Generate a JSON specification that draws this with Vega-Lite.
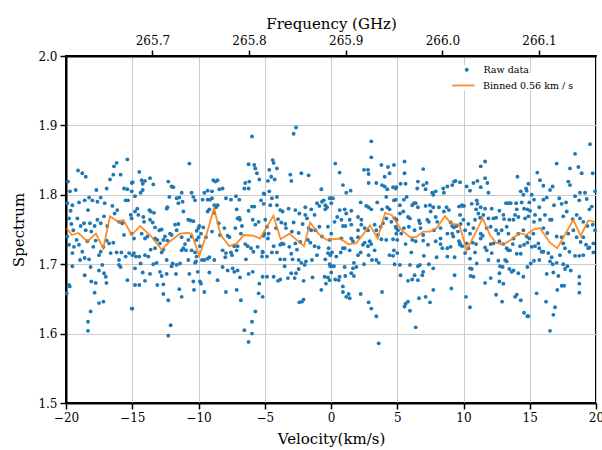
{
"$schema": "https://vega.github.io/schema/vega-lite/v6.json",
"width": 530, "height": 347,
"autosize": "none",
"padding": {"left": 66, "top": 56, "right": 6, "bottom": 47},
"background": "white",
"config": {
  "font": "DejaVu Serif",
  "view": {"stroke": "black", "strokeWidth": 2},
  "axis": {"labelFont": "DejaVu Serif", "titleFont": "DejaVu Serif", "labelFontSize": 12, "titleFontSize": 15, "titleFontWeight": "normal", "labelColor": "black", "titleColor": "black", "tickColor": "black", "tickSize": 6, "tickWidth": 1.5, "domainColor": "black", "domainWidth": 2, "gridColor": "#cccccc", "gridWidth": 1, "labelPadding": 3, "labelFlush": false},
  "legend": {"labelFont": "DejaVu Serif", "labelFontSize": 9.5, "labelColor": "black", "padding": 0, "fillColor": "white"}
},
"datasets": {
"raw": [
{"v":-19.85,"s":1.819},{"v":-19.70,"s":1.805},{"v":-19.27,"s":1.807},{"v":-19.09,"s":1.835},{"v":-18.77,"s":1.831},{"v":-18.51,"s":1.826},{"v":-19.9,"s":1.788},{"v":-19.52,"s":1.785},{"v":-19.02,"s":1.789},{"v":-18.59,"s":1.792},{"v":-18.26,"s":1.796},{"v":-18.01,"s":1.792},{"v":-17.71,"s":1.807},{"v":-17.63,"s":1.790},{"v":-17.38,"s":1.796},{"v":-17.08,"s":1.788},{"v":-16.93,"s":1.809},{"v":-16.68,"s":1.822},{"v":-16.43,"s":1.829},{"v":-16.38,"s":1.841},{"v":-16.18,"s":1.846},{"v":-15.88,"s":1.829},{"v":-15.62,"s":1.809},{"v":-15.37,"s":1.808},{"v":-15.37,"s":1.851},{"v":-15.04,"s":1.817},{"v":-19.65,"s":1.777},{"v":-19.77,"s":1.766},{"v":-19.6,"s":1.758},{"v":-19.45,"s":1.749},{"v":-19.14,"s":1.766},{"v":-18.89,"s":1.755},{"v":-18.64,"s":1.759},{"v":-18.51,"s":1.749},{"v":-18.34,"s":1.778},{"v":-18.19,"s":1.759},{"v":-18.09,"s":1.747},{"v":-17.84,"s":1.755},{"v":-17.63,"s":1.764},{"v":-17.38,"s":1.759},{"v":-17.13,"s":1.769},{"v":-16.88,"s":1.755},{"v":-16.5,"s":1.784},{"v":-16.33,"s":1.773},{"v":-16.13,"s":1.778},{"v":-16.0,"s":1.761},{"v":-15.75,"s":1.759},{"v":-15.5,"s":1.792},{"v":-15.32,"s":1.792},{"v":-15.12,"s":1.771},{"v":-15.62,"s":1.742},{"v":-19.9,"s":1.740},{"v":-19.77,"s":1.728},{"v":-19.52,"s":1.716},{"v":-19.4,"s":1.725},{"v":-19.2,"s":1.735},{"v":-19.02,"s":1.728},{"v":-18.94,"s":1.706},{"v":-18.77,"s":1.718},{"v":-18.59,"s":1.709},{"v":-18.39,"s":1.733},{"v":-18.26,"s":1.707},{"v":-17.94,"s":1.725},{"v":-17.76,"s":1.734},{"v":-17.51,"s":1.713},{"v":-17.38,"s":1.718},{"v":-17.18,"s":1.725},{"v":-16.93,"s":1.734},{"v":-16.75,"s":1.730},{"v":-16.63,"s":1.716},{"v":-16.43,"s":1.731},{"v":-16.18,"s":1.717},{"v":-16.0,"s":1.706},{"v":-15.82,"s":1.717},{"v":-15.5,"s":1.711},{"v":-15.24,"s":1.716},{"v":-14.99,"s":1.713},{"v":-19.52,"s":1.697},{"v":-19.77,"s":1.670},{"v":-19.72,"s":1.668},{"v":-19.95,"s":1.658},{"v":-18.59,"s":1.684},{"v":-18.14,"s":1.696},{"v":-18.09,"s":1.675},{"v":-17.76,"s":1.673},{"v":-17.84,"s":1.659},{"v":-17.51,"s":1.691},{"v":-17.51,"s":1.644},{"v":-17.18,"s":1.646},{"v":-17.26,"s":1.699},{"v":-17.13,"s":1.687},{"v":-17.0,"s":1.682},{"v":-16.95,"s":1.673},{"v":-16.0,"s":1.699},{"v":-15.88,"s":1.696},{"v":-15.37,"s":1.677},{"v":-14.99,"s":1.636},{"v":-18.14,"s":1.632},{"v":-18.34,"s":1.617},{"v":-18.34,"s":1.604},
{"v":-14.97,"s":1.818},{"v":-15.04,"s":1.805},{"v":-14.79,"s":1.798},{"v":-14.47,"s":1.833},{"v":-14.29,"s":1.821},{"v":-14.21,"s":1.816},{"v":-14.04,"s":1.820},{"v":-14.37,"s":1.803},{"v":-14.21,"s":1.807},{"v":-13.66,"s":1.824},{"v":-13.41,"s":1.815},{"v":-14.79,"s":1.776},{"v":-14.62,"s":1.780},{"v":-14.54,"s":1.771},{"v":-15.04,"s":1.766},{"v":-14.16,"s":1.768},{"v":-14.11,"s":1.761},{"v":-13.71,"s":1.778},{"v":-13.61,"s":1.776},{"v":-13.36,"s":1.774},{"v":-13.66,"s":1.764},{"v":-13.46,"s":1.760},{"v":-13.28,"s":1.753},{"v":-12.96,"s":1.749},{"v":-12.78,"s":1.750},{"v":-12.4,"s":1.780},{"v":-12.35,"s":1.782},{"v":-12.2,"s":1.797},{"v":-12.28,"s":1.819},{"v":-12.03,"s":1.812},{"v":-11.9,"s":1.811},{"v":-11.65,"s":1.795},{"v":-11.52,"s":1.788},{"v":-11.45,"s":1.796},{"v":-11.27,"s":1.803},{"v":-11.2,"s":1.790},{"v":-11.14,"s":1.776},{"v":-10.69,"s":1.845},{"v":-10.39,"s":1.797},{"v":-10.26,"s":1.792},{"v":-10.52,"s":1.803},{"v":-10.77,"s":1.764},{"v":-10.59,"s":1.763},{"v":-10.39,"s":1.762},{"v":-10.01,"s":1.752},{"v":-15.04,"s":1.744},{"v":-14.87,"s":1.737},{"v":-14.29,"s":1.744},{"v":-14.04,"s":1.737},{"v":-13.86,"s":1.740},{"v":-13.28,"s":1.737},{"v":-13.11,"s":1.735},{"v":-12.91,"s":1.730},{"v":-12.65,"s":1.735},{"v":-12.53,"s":1.740},{"v":-12.35,"s":1.734},{"v":-12.15,"s":1.744},{"v":-12.03,"s":1.742},{"v":-11.77,"s":1.757},{"v":-11.65,"s":1.749},{"v":-11.52,"s":1.758},{"v":-11.27,"s":1.739},{"v":-11.14,"s":1.723},{"v":-11.02,"s":1.729},{"v":-10.94,"s":1.720},{"v":-10.77,"s":1.735},{"v":-10.52,"s":1.740},{"v":-10.26,"s":1.717},{"v":-10.14,"s":1.735},{"v":-14.87,"s":1.716},{"v":-14.72,"s":1.711},{"v":-14.47,"s":1.711},{"v":-14.37,"s":1.701},{"v":-14.04,"s":1.713},{"v":-13.79,"s":1.711},{"v":-13.61,"s":1.721},{"v":-13.41,"s":1.700},{"v":-13.28,"s":1.723},{"v":-13.16,"s":1.702},{"v":-12.78,"s":1.717},{"v":-12.65,"s":1.721},{"v":-12.4,"s":1.706},{"v":-12.03,"s":1.697},{"v":-11.95,"s":1.701},{"v":-11.65,"s":1.699},{"v":-11.4,"s":1.701},{"v":-11.27,"s":1.720},{"v":-10.77,"s":1.706},{"v":-10.52,"s":1.720},{"v":-10.26,"s":1.702},{"v":-10.14,"s":1.711},{"v":-14.79,"s":1.694},{"v":-14.79,"s":1.670},{"v":-14.47,"s":1.670},{"v":-14.21,"s":1.688},{"v":-14.04,"s":1.676},{"v":-13.66,"s":1.686},{"v":-13.11,"s":1.670},{"v":-12.91,"s":1.689},{"v":-12.78,"s":1.683},{"v":-12.65,"s":1.671},{"v":-12.65,"s":1.657},{"v":-12.28,"s":1.648},{"v":-12.4,"s":1.686},{"v":-11.7,"s":1.686},{"v":-11.45,"s":1.664},{"v":-11.27,"s":1.653},{"v":-10.69,"s":1.686},{"v":-10.39,"s":1.675},{"v":-10.34,"s":1.663},{"v":-15.04,"s":1.636},{"v":-12.1,"s":1.612},{"v":-12.28,"s":1.597},
{"v":-5.96,"s":1.884},{"v":-6.22,"s":1.844},{"v":-5.79,"s":1.843},{"v":-5.71,"s":1.838},{"v":-5.59,"s":1.831},{"v":-5.41,"s":1.822},{"v":-6.17,"s":1.819},{"v":-6.47,"s":1.817},{"v":-6.54,"s":1.809},{"v":-6.22,"s":1.809},{"v":-8.88,"s":1.821},{"v":-8.73,"s":1.819},{"v":-8.56,"s":1.821},{"v":-8.43,"s":1.808},{"v":-8.18,"s":1.809},{"v":-9.56,"s":1.803},{"v":-9.31,"s":1.806},{"v":-8.98,"s":1.805},{"v":-9.69,"s":1.793},{"v":-9.31,"s":1.793},{"v":-9.13,"s":1.793},{"v":-8.98,"s":1.795},{"v":-8.81,"s":1.785},{"v":-8.68,"s":1.782},{"v":-8.56,"s":1.785},{"v":-7.93,"s":1.795},{"v":-7.55,"s":1.793},{"v":-7.17,"s":1.798},{"v":-6.92,"s":1.793},{"v":-7.12,"s":1.779},{"v":-6.22,"s":1.777},{"v":-5.96,"s":1.783},{"v":-5.79,"s":1.783},{"v":-5.28,"s":1.792},{"v":-5.03,"s":1.801},{"v":-9.31,"s":1.776},{"v":-9.18,"s":1.779},{"v":-8.81,"s":1.774},{"v":-9.64,"s":1.753},{"v":-9.94,"s":1.755},{"v":-10.14,"s":1.748},{"v":-9.81,"s":1.744},{"v":-9.99,"s":1.739},{"v":-9.44,"s":1.739},{"v":-8.98,"s":1.747},{"v":-8.48,"s":1.759},{"v":-8.38,"s":1.742},{"v":-8.05,"s":1.752},{"v":-7.8,"s":1.741},{"v":-7.67,"s":1.739},{"v":-7.22,"s":1.752},{"v":-7.05,"s":1.766},{"v":-6.92,"s":1.767},{"v":-6.87,"s":1.764},{"v":-6.72,"s":1.755},{"v":-6.8,"s":1.744},{"v":-7.05,"s":1.726},{"v":-6.47,"s":1.729},{"v":-6.29,"s":1.726},{"v":-6.04,"s":1.723},{"v":-5.91,"s":1.764},{"v":-5.71,"s":1.757},{"v":-5.54,"s":1.725},{"v":-5.46,"s":1.761},{"v":-5.03,"s":1.744},{"v":-5.16,"s":1.717},{"v":-9.74,"s":1.706},{"v":-9.56,"s":1.706},{"v":-9.31,"s":1.708},{"v":-9.18,"s":1.710},{"v":-9.89,"s":1.726},{"v":-10.19,"s":1.704},{"v":-8.81,"s":1.706},{"v":-8.18,"s":1.720},{"v":-7.93,"s":1.716},{"v":-7.98,"s":1.710},{"v":-7.55,"s":1.717},{"v":-7.47,"s":1.713},{"v":-7.3,"s":1.726},{"v":-7.12,"s":1.720},{"v":-6.42,"s":1.707},{"v":-5.86,"s":1.718},{"v":-5.21,"s":1.711},{"v":-10.06,"s":1.689},{"v":-9.89,"s":1.675},{"v":-9.81,"s":1.672},{"v":-9.56,"s":1.660},{"v":-9.18,"s":1.688},{"v":-8.56,"s":1.677},{"v":-8.18,"s":1.696},{"v":-7.93,"s":1.660},{"v":-7.8,"s":1.691},{"v":-7.42,"s":1.694},{"v":-7.3,"s":1.689},{"v":-7.05,"s":1.691},{"v":-7.12,"s":1.663},{"v":-6.8,"s":1.648},{"v":-6.87,"s":1.681},{"v":-6.22,"s":1.686},{"v":-5.91,"s":1.689},{"v":-5.41,"s":1.672},{"v":-5.46,"s":1.658},{"v":-5.16,"s":1.682},{"v":-5.71,"s":1.632},{"v":-5.96,"s":1.617},{"v":-6.54,"s":1.605},{"v":-5.96,"s":1.600},{"v":-6.22,"s":1.588},
{"v":-2.64,"s":1.897},{"v":-2.82,"s":1.888},{"v":-4.4,"s":1.850},{"v":-4.33,"s":1.846},{"v":-4.08,"s":1.838},{"v":-4.66,"s":1.836},{"v":-4.51,"s":1.826},{"v":-4.25,"s":1.822},{"v":-4.76,"s":1.820},{"v":-3.07,"s":1.829},{"v":-2.99,"s":1.820},{"v":-2.24,"s":1.831},{"v":-1.69,"s":1.828},{"v":-0.73,"s":1.808},{"v":-5.08,"s":1.802},{"v":-4.66,"s":1.805},{"v":-4.46,"s":1.795},{"v":-4.08,"s":1.797},{"v":-4.08,"s":1.785},{"v":-4.58,"s":1.785},{"v":-5.08,"s":1.787},{"v":-3.83,"s":1.778},{"v":-3.65,"s":1.776},{"v":-3.2,"s":1.780},{"v":-2.69,"s":1.778},{"v":-2.39,"s":1.773},{"v":-1.94,"s":1.771},{"v":-1.81,"s":1.766},{"v":-1.94,"s":1.782},{"v":-1.49,"s":1.779},{"v":-1.24,"s":1.771},{"v":-1.06,"s":1.788},{"v":-0.88,"s":1.784},{"v":-0.68,"s":1.790},{"v":-0.55,"s":1.792},{"v":-0.43,"s":1.785},{"v":-0.3,"s":1.782},{"v":-0.05,"s":1.795},{"v":-0.43,"s":1.779},{"v":-4.96,"s":1.764},{"v":-4.83,"s":1.754},{"v":-4.15,"s":1.752},{"v":-4.0,"s":1.765},{"v":-3.75,"s":1.760},{"v":-3.45,"s":1.758},{"v":-3.4,"s":1.752},{"v":-2.82,"s":1.760},{"v":-2.95,"s":1.747},{"v":-2.44,"s":1.745},{"v":-2.14,"s":1.758},{"v":-1.69,"s":1.752},{"v":-1.49,"s":1.749},{"v":-1.18,"s":1.749},{"v":-0.88,"s":1.754},{"v":-0.68,"s":1.740},{"v":-5.08,"s":1.741},{"v":-4.71,"s":1.744},{"v":-4.76,"s":1.737},{"v":-4.33,"s":1.726},{"v":-3.83,"s":1.728},{"v":-3.7,"s":1.730},{"v":-3.57,"s":1.729},{"v":-3.15,"s":1.725},{"v":-2.69,"s":1.730},{"v":-2.57,"s":1.721},{"v":-2.32,"s":1.732},{"v":-1.74,"s":1.735},{"v":-1.56,"s":1.731},{"v":-1.24,"s":1.726},{"v":-1.06,"s":1.713},{"v":-0.93,"s":1.724},{"v":-0.18,"s":1.723},{"v":-5.16,"s":1.718},{"v":-4.83,"s":1.711},{"v":-4.46,"s":1.717},{"v":-4.08,"s":1.717},{"v":-3.83,"s":1.707},{"v":-3.5,"s":1.707},{"v":-3.0,"s":1.715},{"v":-2.9,"s":1.707},{"v":-2.44,"s":1.706},{"v":-2.24,"s":1.702},{"v":-1.99,"s":1.699},{"v":-1.89,"s":1.704},{"v":-1.44,"s":1.706},{"v":-0.43,"s":1.707},{"v":-0.05,"s":1.713},{"v":-0.05,"s":1.697},{"v":-4.83,"s":1.682},{"v":-4.33,"s":1.682},{"v":-4.0,"s":1.676},{"v":-3.83,"s":1.678},{"v":-3.5,"s":1.697},{"v":-3.25,"s":1.680},{"v":-3.0,"s":1.687},{"v":-2.64,"s":1.687},{"v":-2.74,"s":1.680},{"v":-2.44,"s":1.693},{"v":-2.07,"s":1.676},{"v":-1.39,"s":1.681},{"v":-0.48,"s":1.682},{"v":-0.38,"s":1.672},{"v":-0.23,"s":1.681},{"v":-0.73,"s":1.663},{"v":-5.16,"s":1.653},{"v":-2.39,"s":1.645},{"v":-2.19,"s":1.646},{"v":-2.07,"s":1.649},
{"v":3.04,"s":1.877},{"v":3.04,"s":1.854},{"v":0.32,"s":1.845},{"v":0.65,"s":1.832},{"v":2.49,"s":1.836},{"v":2.79,"s":1.836},{"v":2.84,"s":1.830},{"v":3.8,"s":1.843},{"v":4.05,"s":1.826},{"v":4.42,"s":1.831},{"v":4.3,"s":1.840},{"v":0.9,"s":1.814},{"v":1.15,"s":1.803},{"v":1.48,"s":1.806},{"v":2.84,"s":1.817},{"v":3.42,"s":1.817},{"v":3.85,"s":1.814},{"v":4.05,"s":1.812},{"v":4.25,"s":1.808},{"v":4.68,"s":1.811},{"v":4.93,"s":1.811},{"v":4.17,"s":1.797},{"v":-0.1,"s":1.795},{"v":0.15,"s":1.795},{"v":0.02,"s":1.788},{"v":2.24,"s":1.789},{"v":2.66,"s":1.784},{"v":2.84,"s":1.782},{"v":3.04,"s":1.779},{"v":3.49,"s":1.789},{"v":3.85,"s":1.779},{"v":4.25,"s":1.782},{"v":4.42,"s":1.779},{"v":4.75,"s":1.792},{"v":0.65,"s":1.778},{"v":1.03,"s":1.779},{"v":1.15,"s":1.773},{"v":1.53,"s":1.777},{"v":0.47,"s":1.768},{"v":0.27,"s":1.761},{"v":0.78,"s":1.764},{"v":0.9,"s":1.755},{"v":1.08,"s":1.755},{"v":1.41,"s":1.764},{"v":1.53,"s":1.757},{"v":2.04,"s":1.768},{"v":2.29,"s":1.764},{"v":2.54,"s":1.752},{"v":2.04,"s":1.749},{"v":2.29,"s":1.757},{"v":2.79,"s":1.749},{"v":3.29,"s":1.757},{"v":3.42,"s":1.749},{"v":3.75,"s":1.754},{"v":3.92,"s":1.759},{"v":4.17,"s":1.766},{"v":4.55,"s":1.761},{"v":4.8,"s":1.766},{"v":4.93,"s":1.752},{"v":-0.23,"s":1.754},{"v":0.02,"s":1.744},{"v":-0.1,"s":1.735},{"v":0.78,"s":1.737},{"v":0.9,"s":1.723},{"v":1.53,"s":1.737},{"v":1.66,"s":1.733},{"v":2.04,"s":1.739},{"v":2.41,"s":1.728},{"v":2.54,"s":1.731},{"v":2.79,"s":1.726},{"v":2.92,"s":1.733},{"v":3.04,"s":1.729},{"v":3.54,"s":1.742},{"v":3.8,"s":1.736},{"v":4.17,"s":1.735},{"v":4.68,"s":1.736},{"v":4.93,"s":1.744},{"v":-0.23,"s":1.716},{"v":0.07,"s":1.717},{"v":0.4,"s":1.711},{"v":0.73,"s":1.717},{"v":1.03,"s":1.723},{"v":1.41,"s":1.720},{"v":1.73,"s":1.702},{"v":2.04,"s":1.713},{"v":2.24,"s":1.717},{"v":2.49,"s":1.700},{"v":2.84,"s":1.713},{"v":3.09,"s":1.706},{"v":3.29,"s":1.720},{"v":3.42,"s":1.706},{"v":3.6,"s":1.702},{"v":4.42,"s":1.713},{"v":4.68,"s":1.712},{"v":4.8,"s":1.700},{"v":-0.1,"s":1.700},{"v":0.02,"s":1.697},{"v":0.22,"s":1.697},{"v":0.02,"s":1.688},{"v":-0.1,"s":1.677},{"v":0.32,"s":1.678},{"v":0.65,"s":1.682},{"v":0.58,"s":1.677},{"v":1.03,"s":1.696},{"v":1.08,"s":1.683},{"v":1.66,"s":1.694},{"v":1.53,"s":1.687},{"v":1.73,"s":1.683},{"v":1.91,"s":1.696},{"v":0.9,"s":1.668},{"v":0.9,"s":1.660},{"v":1.15,"s":1.653},{"v":1.33,"s":1.657},{"v":1.41,"s":1.651},{"v":2.24,"s":1.657},{"v":3.85,"s":1.660},{"v":2.84,"s":1.645},{"v":3.04,"s":1.636},{"v":3.42,"s":1.625},{"v":3.6,"s":1.586},
{"v":5.55,"s":1.848},{"v":5.55,"s":1.831},{"v":6.96,"s":1.837},{"v":4.75,"s":1.843},{"v":5.25,"s":1.816},{"v":5.63,"s":1.816},{"v":4.88,"s":1.809},{"v":6.56,"s":1.819},{"v":6.96,"s":1.814},{"v":7.22,"s":1.817},{"v":6.51,"s":1.809},{"v":7.14,"s":1.808},{"v":7.64,"s":1.803},{"v":7.9,"s":1.805},{"v":7.72,"s":1.800},{"v":8.47,"s":1.809},{"v":8.78,"s":1.812},{"v":9.15,"s":1.814},{"v":9.28,"s":1.819},{"v":9.4,"s":1.820},{"v":8.52,"s":1.803},{"v":5.71,"s":1.797},{"v":5.5,"s":1.793},{"v":4.88,"s":1.793},{"v":5.2,"s":1.785},{"v":6.13,"s":1.785},{"v":6.26,"s":1.788},{"v":6.39,"s":1.788},{"v":6.56,"s":1.782},{"v":7.14,"s":1.784},{"v":7.47,"s":1.785},{"v":7.72,"s":1.782},{"v":8.15,"s":1.782},{"v":8.52,"s":1.776},{"v":8.72,"s":1.782},{"v":8.9,"s":1.778},{"v":9.66,"s":1.783},{"v":9.91,"s":1.784},{"v":5.2,"s":1.773},{"v":5.45,"s":1.776},{"v":5.81,"s":1.768},{"v":5.96,"s":1.766},{"v":4.95,"s":1.764},{"v":6.64,"s":1.763},{"v":6.71,"s":1.759},{"v":7.27,"s":1.764},{"v":7.39,"s":1.761},{"v":7.52,"s":1.776},{"v":7.9,"s":1.768},{"v":8.02,"s":1.761},{"v":9.03,"s":1.760},{"v":9.15,"s":1.755},{"v":9.28,"s":1.753},{"v":9.48,"s":1.755},{"v":9.78,"s":1.758},{"v":4.88,"s":1.754},{"v":5.05,"s":1.749},{"v":5.3,"s":1.744},{"v":5.5,"s":1.752},{"v":5.88,"s":1.754},{"v":6.31,"s":1.749},{"v":6.76,"s":1.752},{"v":6.96,"s":1.742},{"v":7.77,"s":1.749},{"v":8.27,"s":1.752},{"v":8.78,"s":1.744},{"v":9.15,"s":1.744},{"v":9.23,"s":1.740},{"v":9.58,"s":1.747},{"v":9.66,"s":1.733},{"v":9.91,"s":1.726},{"v":5.0,"s":1.735},{"v":5.63,"s":1.729},{"v":6.13,"s":1.735},{"v":6.39,"s":1.733},{"v":6.96,"s":1.734},{"v":7.32,"s":1.728},{"v":7.9,"s":1.733},{"v":8.27,"s":1.737},{"v":8.27,"s":1.729},{"v":8.4,"s":1.723},{"v":8.78,"s":1.723},{"v":9.03,"s":1.725},{"v":9.73,"s":1.728},{"v":4.75,"s":1.720},{"v":5.0,"s":1.716},{"v":6.06,"s":1.717},{"v":7.01,"s":1.712},{"v":7.97,"s":1.710},{"v":8.78,"s":1.711},{"v":9.33,"s":1.710},{"v":5.2,"s":1.699},{"v":5.96,"s":1.699},{"v":6.56,"s":1.697},{"v":6.71,"s":1.699},{"v":7.39,"s":1.700},{"v":6.96,"s":1.689},{"v":6.89,"s":1.684},{"v":7.72,"s":1.694},{"v":5.25,"s":1.684},{"v":6.31,"s":1.684},{"v":5.81,"s":1.676},{"v":6.13,"s":1.678},{"v":6.56,"s":1.677},{"v":9.33,"s":1.684},{"v":7.72,"s":1.663},{"v":9.08,"s":1.665},{"v":6.64,"s":1.651},{"v":7.14,"s":1.653},{"v":7.47,"s":1.645},{"v":5.81,"s":1.646},{"v":5.63,"s":1.643},{"v":5.55,"s":1.639},{"v":5.96,"s":1.633},{"v":6.39,"s":1.609},
{"v":11.3,"s":1.841},{"v":11.63,"s":1.848},{"v":11.05,"s":1.820},{"v":10.75,"s":1.817},{"v":10.24,"s":1.812},{"v":10.49,"s":1.806},{"v":9.74,"s":1.818},{"v":11.63,"s":1.824},{"v":11.8,"s":1.817},{"v":11.3,"s":1.811},{"v":11.88,"s":1.803},{"v":14.07,"s":1.826},{"v":14.32,"s":1.805},{"v":14.52,"s":1.800},{"v":14.72,"s":1.809},{"v":14.9,"s":1.816},{"v":9.87,"s":1.785},{"v":10.04,"s":1.784},{"v":10.62,"s":1.787},{"v":11.0,"s":1.792},{"v":11.05,"s":1.787},{"v":10.95,"s":1.779},{"v":11.3,"s":1.782},{"v":11.63,"s":1.780},{"v":12.13,"s":1.780},{"v":12.71,"s":1.777},{"v":13.21,"s":1.788},{"v":13.39,"s":1.788},{"v":13.56,"s":1.788},{"v":13.97,"s":1.788},{"v":14.39,"s":1.789},{"v":14.57,"s":1.780},{"v":14.82,"s":1.779},{"v":14.02,"s":1.779},{"v":9.74,"s":1.771},{"v":9.99,"s":1.764},{"v":10.37,"s":1.758},{"v":10.87,"s":1.764},{"v":11.12,"s":1.773},{"v":11.25,"s":1.767},{"v":11.5,"s":1.771},{"v":11.88,"s":1.766},{"v":12.26,"s":1.766},{"v":12.46,"s":1.767},{"v":13.01,"s":1.771},{"v":13.06,"s":1.765},{"v":13.46,"s":1.764},{"v":13.77,"s":1.764},{"v":13.89,"s":1.771},{"v":14.14,"s":1.768},{"v":14.65,"s":1.766},{"v":14.9,"s":1.769},{"v":10.12,"s":1.749},{"v":10.49,"s":1.744},{"v":10.75,"s":1.752},{"v":11.3,"s":1.744},{"v":11.45,"s":1.741},{"v":11.75,"s":1.752},{"v":12.05,"s":1.754},{"v":12.46,"s":1.749},{"v":12.63,"s":1.744},{"v":12.88,"s":1.749},{"v":13.26,"s":1.754},{"v":13.39,"s":1.744},{"v":13.77,"s":1.737},{"v":14.14,"s":1.744},{"v":14.52,"s":1.749},{"v":14.77,"s":1.740},{"v":9.74,"s":1.730},{"v":10.24,"s":1.730},{"v":10.37,"s":1.723},{"v":10.7,"s":1.731},{"v":10.95,"s":1.729},{"v":11.3,"s":1.737},{"v":11.63,"s":1.724},{"v":11.75,"s":1.720},{"v":12.05,"s":1.729},{"v":12.26,"s":1.730},{"v":12.71,"s":1.733},{"v":13.01,"s":1.729},{"v":13.26,"s":1.723},{"v":13.39,"s":1.720},{"v":13.72,"s":1.729},{"v":14.27,"s":1.726},{"v":14.57,"s":1.728},{"v":14.82,"s":1.731},{"v":10.12,"s":1.716},{"v":10.49,"s":1.708},{"v":10.87,"s":1.717},{"v":11.0,"s":1.701},{"v":11.88,"s":1.706},{"v":12.13,"s":1.716},{"v":12.63,"s":1.705},{"v":12.76,"s":1.697},{"v":13.14,"s":1.706},{"v":13.26,"s":1.704},{"v":13.51,"s":1.720},{"v":14.02,"s":1.715},{"v":14.32,"s":1.715},{"v":10.49,"s":1.694},{"v":10.62,"s":1.693},{"v":10.54,"s":1.683},{"v":10.75,"s":1.682},{"v":12.71,"s":1.687},{"v":12.96,"s":1.696},{"v":13.46,"s":1.693},{"v":13.64,"s":1.689},{"v":13.77,"s":1.691},{"v":14.14,"s":1.687},{"v":14.52,"s":1.682},{"v":11.63,"s":1.673},{"v":12.05,"s":1.680},{"v":12.71,"s":1.675},{"v":13.01,"s":1.672},{"v":10.19,"s":1.653},{"v":12.46,"s":1.656},{"v":13.89,"s":1.653},{"v":14.02,"s":1.656},{"v":14.32,"s":1.648},{"v":12.91,"s":1.646},{"v":10.49,"s":1.638},{"v":14.57,"s":1.630},{"v":14.82,"s":1.625},
{"v":19.55,"s":1.873},{"v":18.42,"s":1.859},{"v":18.04,"s":1.838},{"v":18.67,"s":1.840},{"v":18.92,"s":1.831},{"v":15.57,"s":1.832},{"v":15.77,"s":1.821},{"v":16.03,"s":1.813},{"v":16.53,"s":1.807},{"v":17.03,"s":1.845},{"v":16.73,"s":1.812},{"v":17.91,"s":1.819},{"v":18.04,"s":1.814},{"v":18.79,"s":1.803},{"v":19.17,"s":1.803},{"v":19.75,"s":1.831},{"v":19.93,"s":1.805},{"v":14.77,"s":1.806},{"v":15.15,"s":1.800},{"v":14.97,"s":1.789},{"v":15.32,"s":1.793},{"v":15.72,"s":1.782},{"v":16.03,"s":1.793},{"v":16.28,"s":1.796},{"v":16.83,"s":1.785},{"v":17.23,"s":1.795},{"v":17.41,"s":1.787},{"v":17.74,"s":1.789},{"v":18.42,"s":1.798},{"v":18.74,"s":1.792},{"v":19.3,"s":1.794},{"v":19.5,"s":1.779},{"v":19.68,"s":1.783},{"v":15.02,"s":1.777},{"v":15.4,"s":1.771},{"v":15.32,"s":1.761},{"v":15.77,"s":1.764},{"v":16.15,"s":1.771},{"v":16.53,"s":1.764},{"v":16.65,"s":1.764},{"v":17.53,"s":1.769},{"v":17.79,"s":1.776},{"v":18.24,"s":1.765},{"v":18.54,"s":1.771},{"v":18.79,"s":1.766},{"v":19.04,"s":1.761},{"v":19.35,"s":1.755},{"v":19.75,"s":1.757},{"v":19.93,"s":1.749},{"v":14.97,"s":1.737},{"v":15.27,"s":1.744},{"v":15.65,"s":1.730},{"v":16.03,"s":1.752},{"v":16.33,"s":1.745},{"v":17.03,"s":1.740},{"v":17.41,"s":1.739},{"v":17.53,"s":1.730},{"v":17.91,"s":1.744},{"v":18.29,"s":1.749},{"v":18.54,"s":1.739},{"v":18.84,"s":1.732},{"v":19.04,"s":1.739},{"v":19.25,"s":1.728},{"v":19.5,"s":1.724},{"v":19.8,"s":1.730},{"v":19.8,"s":1.717},{"v":15.15,"s":1.725},{"v":15.4,"s":1.726},{"v":15.72,"s":1.723},{"v":15.9,"s":1.718},{"v":16.03,"s":1.718},{"v":16.4,"s":1.716},{"v":16.65,"s":1.710},{"v":17.28,"s":1.713},{"v":17.66,"s":1.723},{"v":17.99,"s":1.718},{"v":18.42,"s":1.712},{"v":18.74,"s":1.712},{"v":19.04,"s":1.713},{"v":19.42,"s":1.723},{"v":15.07,"s":1.701},{"v":15.32,"s":1.705},{"v":15.72,"s":1.706},{"v":16.53,"s":1.704},{"v":16.73,"s":1.700},{"v":17.03,"s":1.702},{"v":17.53,"s":1.700},{"v":17.84,"s":1.697},{"v":18.09,"s":1.691},{"v":14.82,"s":1.696},{"v":16.28,"s":1.686},{"v":16.78,"s":1.688},{"v":17.16,"s":1.683},{"v":17.66,"s":1.693},{"v":18.74,"s":1.682},{"v":18.74,"s":1.672},{"v":18.74,"s":1.659},{"v":17.41,"s":1.669},{"v":17.59,"s":1.669},{"v":17.08,"s":1.663},{"v":15.52,"s":1.658},{"v":16.23,"s":1.646},{"v":16.91,"s":1.638},{"v":16.78,"s":1.627},{"v":16.53,"s":1.604},{"v":14.89,"s":1.625}
],
"binned": [
{"v":-19.95,"s":1.752},{"v":-19.57,"s":1.742},{"v":-19.07,"s":1.745},{"v":-18.39,"s":1.733},{"v":-17.74,"s":1.744},{"v":-17.18,"s":1.723},{"v":-16.68,"s":1.769},{"v":-16.05,"s":1.761},{"v":-15.67,"s":1.764},{"v":-15.04,"s":1.742},{"v":-14.41,"s":1.755},{"v":-13.66,"s":1.742},{"v":-12.78,"s":1.721},{"v":-12.15,"s":1.733},{"v":-11.4,"s":1.744},{"v":-10.89,"s":1.745},{"v":-10.52,"s":1.744},{"v":-9.94,"s":1.712},{"v":-9.38,"s":1.744},{"v":-8.83,"s":1.781},{"v":-8.33,"s":1.742},{"v":-7.67,"s":1.726},{"v":-7.12,"s":1.730},{"v":-6.57,"s":1.742},{"v":-5.86,"s":1.741},{"v":-5.36,"s":1.737},{"v":-4.35,"s":1.770},{"v":-3.8,"s":1.736},{"v":-3.14,"s":1.744},{"v":-2.59,"s":1.735},{"v":-2.04,"s":1.726},{"v":-1.58,"s":1.760},{"v":-0.95,"s":1.744},{"v":-0.33,"s":1.735},{"v":0.68,"s":1.737},{"v":1.31,"s":1.729},{"v":1.89,"s":1.730},{"v":2.94,"s":1.756},{"v":3.52,"s":1.737},{"v":4.08,"s":1.774},{"v":4.58,"s":1.771},{"v":5.33,"s":1.749},{"v":5.96,"s":1.739},{"v":6.42,"s":1.739},{"v":6.97,"s":1.747},{"v":7.47,"s":1.747},{"v":7.97,"s":1.752},{"v":8.6,"s":1.769},{"v":9.11,"s":1.758},{"v":9.69,"s":1.757},{"v":10.24,"s":1.720},{"v":10.87,"s":1.744},{"v":11.45,"s":1.766},{"v":12.0,"s":1.742},{"v":12.45,"s":1.731},{"v":13.01,"s":1.728},{"v":13.64,"s":1.736},{"v":14.21,"s":1.745},{"v":14.72,"s":1.742},{"v":15.27,"s":1.750},{"v":15.77,"s":1.752},{"v":16.53,"s":1.731},{"v":17.08,"s":1.723},{"v":18.29,"s":1.764},{"v":18.84,"s":1.741},{"v":19.42,"s":1.763},{"v":19.92,"s":1.761}
]
},
"layer": [
 {"layer": [
  {"data": {"name": "raw"},
   "mark": {"type": "circle", "size": 15, "opacity": 1},
   "encoding": {
    "x": {"field": "v", "type": "quantitative", "scale": {"domain": [-20, 20], "nice": false, "zero": false},
          "axis": {"values": [-20,-15,-10,-5,0,5,10,15,20], "title": "Velocity(km/s)", "grid": true, "titlePadding": 8}},
    "y": {"field": "s", "type": "quantitative", "scale": {"domain": [1.5, 2.0], "nice": false, "zero": false},
          "axis": {"values": [1.5,1.6,1.7,1.8,1.9,2.0], "format": ".1f", "title": "Spectrum", "grid": true, "titlePadding": 11}},
    "fill": {"datum": "Raw data",
      "scale": {"domain": ["Raw data"], "range": ["#1f77b4"]},
      "legend": {"title": null, "orient": "none", "legendX": 396, "legendY": 9, "symbolType": "circle", "symbolSize": 16, "labelOffset": 12, "symbolStrokeWidth": 0}}
   }},
  {"data": {"name": "binned"},
   "mark": {"type": "line", "strokeWidth": 1.8, "opacity": 0.9},
   "encoding": {
    "x": {"field": "v", "type": "quantitative"},
    "y": {"field": "s", "type": "quantitative"},
    "stroke": {"datum": "Binned 0.56 km / s",
      "scale": {"domain": ["Binned 0.56 km / s"], "range": ["#ff7f0e"]},
      "legend": {"title": null, "orient": "none", "legendX": 385, "legendY": 17, "symbolType": "stroke", "symbolSize": 500, "symbolStrokeWidth": 1.8, "labelOffset": 7}}
   }}
 ]},
 {"data": {"values": [{"f": 265.7}, {"f": 265.8}, {"f": 265.9}, {"f": 266.0}, {"f": 266.1}]},
  "mark": {"type": "point", "opacity": 0},
  "encoding": {
   "x": {"field": "f", "type": "quantitative", "scale": {"domain": [265.6106, 266.159], "nice": false, "zero": false},
         "axis": {"orient": "top", "title": "Frequency (GHz)", "values": [265.7, 265.8, 265.9, 266.0, 266.1], "format": ".1f", "grid": false, "titlePadding": 3}}
  }}
],
"resolve": {"scale": {"x": "independent"}}
}
